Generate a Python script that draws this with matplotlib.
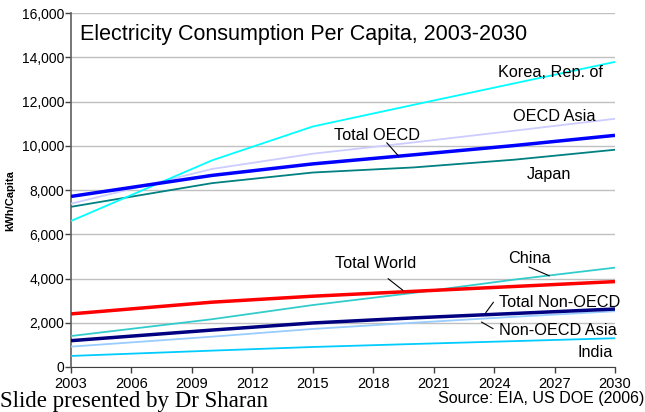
import matplotlib
matplotlib.use("Agg")
import matplotlib.pyplot as plt

plt.rcParams['font.family'] = ['Liberation Sans', 'DejaVu Sans']

years = [2003, 2010, 2015, 2020, 2025, 2030]
korea = [6600, 9340, 10870, 11850, 12820, 13790]
oecd_asia = [7380, 8950, 9640, 10150, 10680, 11220]
total_oecd = [7710, 8660, 9180, 9590, 10010, 10470]
japan = [7240, 8310, 8790, 9020, 9370, 9820]
total_world = [2400, 2930, 3200, 3420, 3640, 3860]
china = [1400, 2160, 2800, 3350, 3950, 4490]
total_non_oecd = [1190, 1670, 1990, 2220, 2420, 2620]
non_oecd_asia = [920, 1370, 1720, 2000, 2270, 2520]
india = [500, 740, 905, 1040, 1170, 1300]

xticks = [2003, 2006, 2009, 2012, 2015, 2018, 2021, 2024, 2027, 2030]
yticks = [0, 2000, 4000, 6000, 8000, 10000, 12000, 14000, 16000]

fig = plt.figure(figsize=(6.45, 4.12), dpi=100)
ax = fig.add_axes([71/645, 1-367/412, (615-71)/645, (367-13)/412])

series = [
    (oecd_asia, '#CCCCFF', 1.3),
    (japan, '#008080', 1.3),
    (korea, '#00FFFF', 1.3),
    (total_oecd, '#0000FF', 2.5),
    (india, '#00CCFF', 1.3),
    (non_oecd_asia, '#99CCFF', 1.3),
    (china, '#33CCCC', 1.3),
    (total_non_oecd, '#000080', 2.5),
    (total_world, '#FF0000', 2.5),
]
for vals, col, lw in series:
    ax.plot(years, vals, color=col, lw=lw, solid_capstyle='butt', zorder=3)

ax.set_xlim(2003, 2030)
ax.set_ylim(0, 16000)
ax.set_xticks(xticks)
ax.set_yticks(yticks)
ax.set_yticklabels([f"{v:,}" for v in yticks], fontsize=10)
ax.set_xticklabels([str(v) for v in xticks], fontsize=10.5)
ax.tick_params(axis='both', direction='out', length=4, width=1, color='#404040')
ax.tick_params(axis='y', pad=1)
ax.tick_params(axis='x', pad=3)
ax.grid(axis='y', color='#C0C0C0', lw=1)
ax.set_axisbelow(True)
for s in ['top', 'right']:
    ax.spines[s].set_visible(False)
ax.spines['left'].set_color('#606060')
ax.spines['bottom'].set_color('#404040')
ax.spines['left'].set_linewidth(1.2)

ax.set_ylabel('kWh/Capita', fontsize=8, fontweight='bold')
ax.yaxis.set_label_coords(-0.103, 0.47)

ax.text(0.017, 0.97, 'Electricity Consumption Per Capita, 2003-2030', transform=ax.transAxes,
        fontsize=15.5, va='top', ha='left')

fs = 11.7
line = dict(arrowstyle='-', color='black', lw=0.8)
ax.text(2026.8, 13300, 'Korea, Rep. of', fontsize=fs, ha='center', va='center')
ax.text(2027.0, 11300, 'OECD Asia', fontsize=fs, ha='center', va='center')
ax.text(2026.7, 8720, 'Japan', fontsize=fs, ha='center', va='center')
ax.text(2018.2, 10470, 'Total OECD', fontsize=fs, ha='center', va='center')
ax.annotate('', xy=(2019.33, 9460), xytext=(2018.58, 10230), arrowprops=line)
ax.text(2018.1, 4660, 'Total World', fontsize=fs, ha='center', va='center')
ax.annotate('', xy=(2019.58, 3390), xytext=(2018.63, 4070), arrowprops=line)
ax.text(2025.75, 4890, 'China', fontsize=fs, ha='center', va='center')
ax.annotate('', xy=(2026.87, 4070), xytext=(2025.6, 4570), arrowprops=line)
ax.text(2024.24, 2900, 'Total Non-OECD', fontsize=fs, ha='left', va='center')
ax.annotate('', xy=(2023.5, 2350), xytext=(2024.05, 3030), arrowprops=line)
ax.text(2024.24, 1650, 'Non-OECD Asia', fontsize=fs, ha='left', va='center')
ax.annotate('', xy=(2023.25, 2095), xytext=(2024.07, 1670), arrowprops=line)
ax.text(2029.0, 640, 'India', fontsize=fs, ha='center', va='center')

fig.text(0.5/645, 1-402/412, 'Slide presented by Dr Sharan', family=['Liberation Serif'],
         fontsize=16.5, ha='left', va='center')
fig.text(644/645, 1-398/412, 'Source: EIA, US DOE (2006)', fontsize=11.5, ha='right', va='center')

fig.savefig('out.png', dpi=100)
